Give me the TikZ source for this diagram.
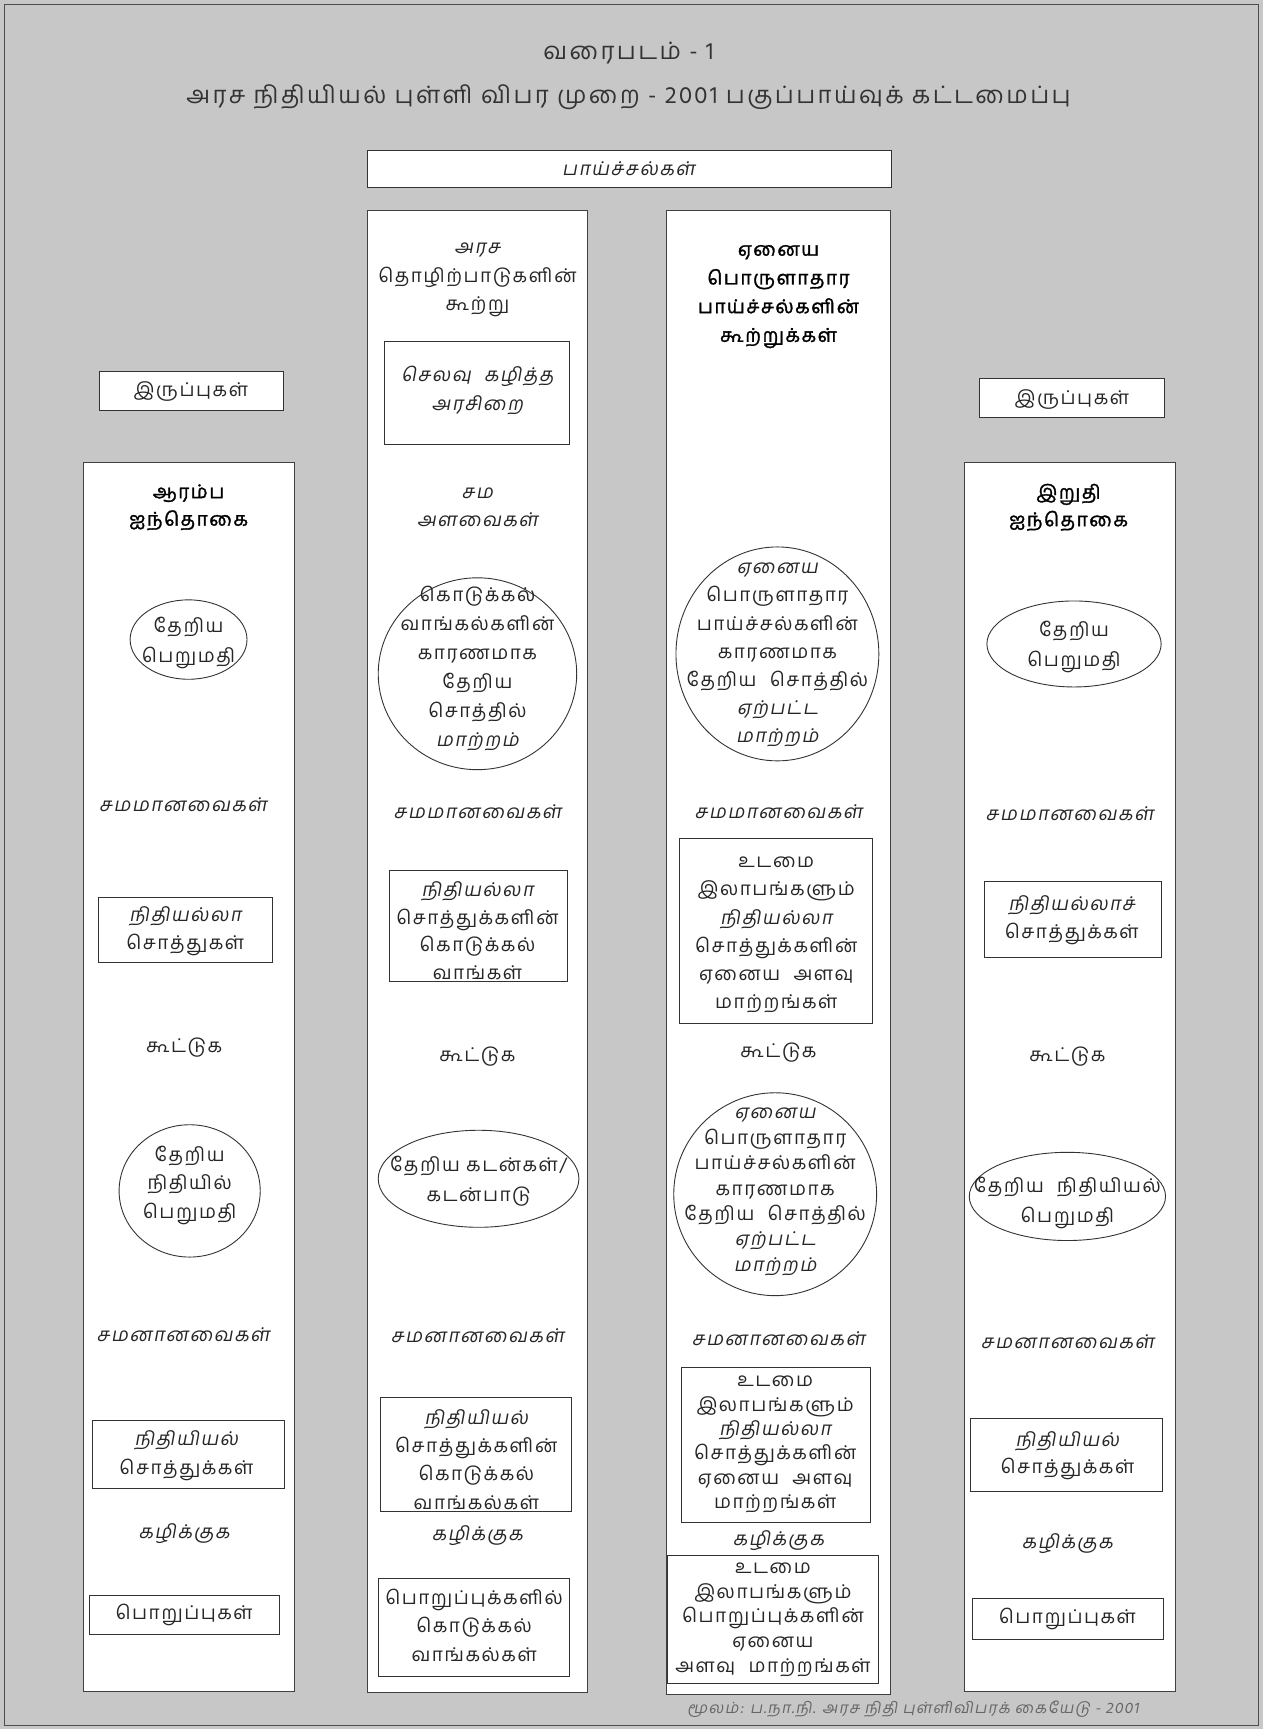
\documentclass[tikz,border=0pt]{standalone}
\usepackage{fontspec}
\newfontfamily\tam[Script=Tamil,LetterSpace=8]{Hind Madurai}
\newfontfamily\tamsl[Script=Tamil,FakeSlant=0.18,LetterSpace=8]{Hind Madurai}
\newfontfamily\tambf[Script=Tamil,FakeBold=1.6,LetterSpace=8]{Hind Madurai}
\newfontfamily\tamti[Script=Tamil,LetterSpace=10]{Hind Madurai}
\usetikzlibrary{shapes.geometric}
\newcommand\pxu{1.10306pt}
\newcommand\wsp{\hspace{0.7em}}
\tikzset{
  colst/.style={draw=black!75, line width=1pt, fill=white},
  bxst/.style={draw=black!80, line width=0.9pt, fill=white},
  ellst/.style={ellipse, draw=black!80, line width=0.9pt, inner sep=0pt, fill=white},
  tx/.style={font=\tam\fontsize{19}{28.7}\selectfont, align=center, inner sep=0pt, text=black!85},
  txs/.style={font=\tamsl\fontsize{19}{28.7}\selectfont, align=center, inner sep=0pt, text=black!85},
  txb/.style={font=\tambf\fontsize{19}{28.7}\selectfont, align=center, inner sep=0pt, text=black},
  ls/.style={font=\tam\fontsize{19}{#1}\selectfont},
  lss/.style={font=\tamsl\fontsize{19}{#1}\selectfont},
  lsb/.style={font=\tambf\fontsize{19}{#1}\selectfont},
}
\newcommand\ELL[5]{\node[ellst, minimum width={2*#3*\pxu}, minimum height={2*#4*\pxu}] (#5) at (#1,#2) {};}
\begin{document}
\begin{tikzpicture}[x=1.10306pt,y=-1.10306pt]
\useasboundingbox (0,0) rectangle (1145,1568);
\fill[black!22] (0,0) rectangle (1145,1568);
\draw[black!70, line width=1pt] (4,4) rectangle (1141,1565);

% title
\node[font=\tamti\fontsize{24}{28}\selectfont, text=black!80] (t1) at (570,48) {வரைபடம் - 1};
\node[font=\tamti\fontsize{24}{28}\selectfont, text=black!80] (t2) at (570,88) {அரச நிதியியல் புள்ளி விபர முறை - 2001 பகுப்பாய்வுக் கட்டமைப்பு};

% top flows box
\draw[bxst] (333,136) rectangle (808,170);
\node[txs] (flows) at (570,153) {பாய்ச்சல்கள்};

% stock boxes
\draw[bxst] (90,337) rectangle (257,372);
\node[tx] (stL) at (173,355) {இருப்புகள்};
\draw[bxst] (888,343) rectangle (1056,379);
\node[tx] (stR) at (972,362) {இருப்புகள்};

% columns
\draw[colst] (76,419) rectangle (267,1534);
\draw[colst] (333,191) rectangle (533,1535);
\draw[colst] (604,191) rectangle (808,1537);
\draw[colst] (875,419) rectangle (1066,1534);

% ---------- column 1
\node[txb, lsb=27.5pt] (c1h) at (171,460) {ஆரம்ப\\ஐந்தொகை};
\ELL{171}{580}{53}{36}{c1e1}
\node[tx, ls=29.8pt] (c1e1t) at (171,583) {தேறிய\\பெறுமதி};
\node[txs] (c1a) at (166,730) {சமமானவைகள்};
\draw[bxst] (89,814) rectangle (247,873);
\node[tx, ls=27.5pt] (c1b1) at (168,844.5) {{\tamsl நிதியல்லா}\\சொத்துகள்};
\node[tx] (c1k) at (167,950) {கூட்டுக};
\ELL{172}{1080}{64}{60}{c1e2}
\node[tx, ls=28.7pt] (c1e2t) at (172,1075) {தேறிய\\நிதியில்\\பெறுமதி};
\node[txs] (c1s) at (166,1210) {சமனானவைகள்};
\draw[bxst] (84,1288) rectangle (258,1350);
\node[tx, ls=28.7pt] (c1b2) at (169,1320) {{\tamsl நிதியியல்}\\சொத்துக்கள்};
\node[txs] (c1m) at (167,1391) {கழிக்குக};
\draw[bxst] (81,1447) rectangle (253,1482);
\node[tx] (c1b3) at (167,1465) {பொறுப்புகள்};

% ---------- column 2
\node[tx, ls=28.7pt] (c2h) at (433,254) {{\tamsl அரச}\\தொழிற்பாடுகளின்\\கூற்று};
\draw[bxst] (349,310) rectangle (516,403);
\node[txs, lss=28.7pt] (c2b1) at (433,354) {செலவு\wsp கழித்த\\அரசிறை};
\node[txs, lss=27.5pt] (c2sa) at (433,460) {சம\\அளவைகள்};
\ELL{433}{611}{90}{87}{c2e1}
\node[tx, ls=29.1pt] (c2e1t) at (433,606) {கொடுக்கல்\\வாங்கல்களின்\\காரணமாக\\தேறிய\\சொத்தில்\\{\tamsl மாற்றம்}};
\node[txs] (c2a) at (433,736) {சமமானவைகள்};
\draw[bxst] (353,789) rectangle (515,890);
\node[tx, ls=27.9pt] (c2b2) at (433,844) {{\tamsl நிதியல்லா}\\சொத்துக்களின்\\கொடுக்கல்\\வாங்கள்};
\node[tx] (c2k) at (433,958) {கூட்டுக};
\ELL{434}{1069}{91}{44}{c2e2}
\node[tx, ls=29.8pt] (c2e2t) at (434,1071) {தேறிய கடன்கள்/\\கடன்பாடு};
\node[txs] (c2s) at (433,1211) {சமனானவைகள்};
\draw[bxst] (345,1267) rectangle (518,1371);
\node[tx, ls=28.3pt] (c2b3) at (432,1323.5) {{\tamsl நிதியியல்}\\சொத்துக்களின்\\கொடுக்கல்\\வாங்கல்கள்};
\node[txs] (c2m) at (433,1393) {கழிக்குக};
\draw[bxst] (343,1431) rectangle (516,1520);
\node[tx, ls=28.7pt] (c2b4) at (430,1474) {பொறுப்புக்களில்\\கொடுக்கல்\\வாங்கல்கள்};

% ---------- column 3
\node[txb, lsb=28.7pt] (c3h) at (706,269) {ஏனைய\\பொருளாதார\\பாய்ச்சல்களின்\\கூற்றுக்கள்};
\ELL{705}{593}{92}{97}{c3e1}
\node[tx, ls=28.1pt] (c3e1t) at (705,594) {{\tamsl ஏனைய}\\பொருளாதார\\பாய்ச்சல்களின்\\காரணமாக\\தேறிய\wsp சொத்தில்\\{\tamsl ஏற்பட்ட}\\{\tamsl மாற்றம்}};
\node[txs] (c3a) at (706,736) {சமமானவைகள்};
\draw[bxst] (616,760) rectangle (791,928);
\node[tx, ls=28.2pt] (c3b1) at (704,848) {உடமை\\இலாபங்களும்\\{\tamsl நிதியல்லா}\\சொத்துக்களின்\\ஏனைய\wsp அளவு\\மாற்றங்கள்};
\node[tx] (c3k) at (706,955) {கூட்டுக};
\ELL{703}{1083}{92}{92}{c3e2}
\node[tx, ls=25.4pt] (c3e2t) at (703,1081) {{\tamsl ஏனைய}\\பொருளாதார\\பாய்ச்சல்களின்\\காரணமாக\\தேறிய\wsp சொத்தில்\\{\tamsl ஏற்பட்ட}\\{\tamsl மாற்றம்}};
\node[txs] (c3s) at (706,1214) {சமனானவைகள்};
\draw[bxst] (618,1240) rectangle (789,1381);
\node[tx, ls=24.3pt] (c3b2) at (703,1310) {உடமை\\இலாபங்களும்\\{\tamsl நிதியல்லா}\\சொத்துக்களின்\\ஏனைய\wsp அளவு\\மாற்றங்கள்};
\node[txs] (c3m) at (706,1397) {கழிக்குக};
\draw[bxst] (605,1411) rectangle (797,1527);
\node[tx, ls=24.8pt] (c3b3) at (701,1469) {உடமை\\இலாபங்களும்\\பொறுப்புக்களின்\\ஏனைய\\அளவு\wsp மாற்றங்கள்};

% ---------- column 4
\node[txb, lsb=27.5pt] (c4h) at (969,460) {இறுதி\\ஐந்தொகை};
\ELL{974}{584}{79}{39}{c4e1}
\node[tx, ls=29.8pt] (c4e1t) at (974,587) {தேறிய\\பெறுமதி};
\node[txs] (c4a) at (970,738) {சமமானவைகள்};
\draw[bxst] (893,799) rectangle (1053,868);
\node[tx, ls=27.5pt] (c4b1) at (972,834.5) {{\tamsl நிதியல்லாச்}\\சொத்துக்கள்};
\node[tx] (c4k) at (968,958) {கூட்டுக};
\ELL{968}{1085}{89}{40}{c4e2}
\node[tx, ls=29.8pt] (c4e2t) at (968,1091) {தேறிய\wsp நிதியியல்\\பெறுமதி};
\node[txs] (c4s) at (968,1217) {சமனானவைகள்};
\draw[bxst] (880,1286) rectangle (1054,1353);
\node[tx, ls=27.5pt] (c4b2) at (968,1320) {{\tamsl நிதியியல்}\\சொத்துக்கள்};
\node[txs] (c4m) at (968,1400) {கழிக்குக};
\draw[bxst] (882,1450) rectangle (1055,1487);
\node[tx] (c4b3) at (968,1468) {பொறுப்புகள்};

% footer
\node[font=\tamsl\fontsize{15.5}{17}\selectfont, text=black!60, inner sep=0pt] (src) at (828,1550) {மூலம்: ப.நா.நி. அரச நிதி புள்ளிவிபரக் கையேடு - 2001};
\end{tikzpicture}
\end{document}
